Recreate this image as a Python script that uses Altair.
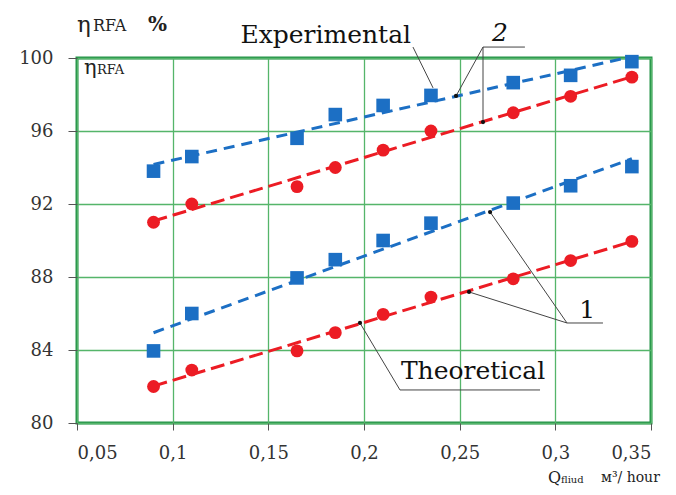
import altair as alt
import pandas as pd

# ---- data ----
q = [0.09, 0.11, 0.165, 0.185, 0.21, 0.235, 0.278, 0.308, 0.34]
exp_upper = [93.8, 94.6, 95.6, 96.9, 97.4, 97.95, 98.65, 99.05, 99.8]
theo_upper = [91.0, 92.0, 92.95, 94.0, 94.95, 96.0, 97.0, 97.9, 98.95]
exp_lower = [83.95, 86.0, 87.95, 88.95, 90.0, 90.95, 92.05, 93.0, 94.05]
theo_lower = [82.0, 82.9, 83.95, 84.95, 85.95, 86.9, 87.9, 88.9, 89.95]

series_names = ["exp_upper", "theo_upper", "exp_lower", "theo_lower"]
series_vals = [exp_upper, theo_upper, exp_lower, theo_lower]
series_kind = ["exp", "theo", "exp", "theo"]

x_ticks = [0.05, 0.1, 0.15, 0.2, 0.25, 0.3, 0.35]
y_ticks = [80, 84, 88, 92, 96, 100]

# annotation texts (data coordinates)
ann_text = ["Experimental", "2", "1", "Theoretical"]
ann_x = [0.180, 0.2711, 0.3166, 0.2570]
ann_y = [101.25, 101.35, 86.2, 82.85]
ann_style = ["normal", "italic", "normal", "normal"]

# leader lines (data coordinates)
lead_x = [0.2256, 0.2622, 0.2622, 0.2622, 0.3061, 0.3061, 0.3061, 0.2188, 0.2188]
lead_y = [100.60, 100.60, 100.60, 100.60, 85.48, 85.48, 85.48, 81.81, 81.81]
lead_x2 = [0.2361, 0.2841, 0.2481, 0.2622, 0.3249, 0.2659, 0.2549, 0.2920, 0.1979]
lead_y2 = [98.36, 100.60, 97.92, 96.49, 85.48, 91.56, 87.18, 81.81, 85.48]
dot_x = [0.2481, 0.2622, 0.2659, 0.2549, 0.1979]
dot_y = [97.92, 96.49, 91.56, 87.18, 85.48]

BLUE = "#1c6fc4"
RED = "#ec1c24"
GRID = "#55b56a"
FRAME = "#249348"
FONT = "DejaVu Serif"

rows = []
for name, vals, kind in zip(series_names, series_vals, series_kind):
    for xv, yv in zip(q, vals):
        rows.append({"series": name, "kind": kind, "q": xv, "eta": yv})
df = pd.DataFrame(rows)

xs = alt.Scale(domain=[0.05, 0.35], nice=False, zero=False)
ys = alt.Scale(domain=[80, 100], nice=False, zero=False)

xaxis = alt.Axis(values=x_ticks, labelExpr="replace(format(datum.value, '.2~f'), '.', ',')",
                 title=None, domain=False, grid=True, gridColor=GRID, gridWidth=1.3,
                 tickColor="#555", tickSize=7, labelFont=FONT, labelFontSize=18,
                 labelColor="#333", labelPadding=14)
yaxis = alt.Axis(values=y_ticks, title=None, domain=False, grid=True, gridColor=GRID,
                 gridWidth=1.3, tickColor="#555", tickSize=9, labelFont=FONT,
                 labelFontSize=18, labelColor="#333", labelPadding=15)

base = alt.Chart(df)

lines_blue = base.transform_filter(alt.datum.kind == "exp").transform_regression(
    "q", "eta", groupby=["series"]
).mark_line(color=BLUE, strokeWidth=3, strokeDash=[11, 7]).encode(
    x=alt.X("q:Q", scale=xs, axis=xaxis),
    y=alt.Y("eta:Q", scale=ys, axis=yaxis),
    detail="series:N",
)
lines_red = base.transform_filter(alt.datum.kind == "theo").transform_regression(
    "q", "eta", groupby=["series"]
).mark_line(color=RED, strokeWidth=3, strokeDash=[14, 6]).encode(
    x=alt.X("q:Q", scale=xs),
    y=alt.Y("eta:Q", scale=ys),
    detail="series:N",
)

pts_blue = base.transform_filter(alt.datum.kind == "exp").mark_point(
    shape="square", filled=True, size=185, color=BLUE, opacity=1
).encode(x=alt.X("q:Q", scale=xs), y=alt.Y("eta:Q", scale=ys))
pts_red = base.transform_filter(alt.datum.kind == "theo").mark_point(
    shape="circle", filled=True, size=165, color=RED, opacity=1
).encode(x=alt.X("q:Q", scale=xs), y=alt.Y("eta:Q", scale=ys))

lead_df = pd.DataFrame({"x": lead_x, "y": lead_y, "x2": lead_x2, "y2": lead_y2})
leaders = alt.Chart(lead_df).mark_rule(color="#444", strokeWidth=1).encode(
    x=alt.X("x:Q", scale=xs), y=alt.Y("y:Q", scale=ys), x2="x2:Q", y2="y2:Q"
)
dots_df = pd.DataFrame({"x": dot_x, "y": dot_y})
dots = alt.Chart(dots_df).mark_point(filled=True, color="#111", size=18, opacity=1).encode(
    x=alt.X("x:Q", scale=xs), y=alt.Y("y:Q", scale=ys)
)

ann_df = pd.DataFrame({"t": ann_text, "x": ann_x, "y": ann_y, "s": ann_style})
ann_normal = alt.Chart(ann_df[ann_df.s == "normal"]).mark_text(
    font=FONT, fontSize=25, color="#111", baseline="middle"
).encode(x=alt.X("x:Q", scale=xs), y=alt.Y("y:Q", scale=ys), text="t:N")
ann_italic = alt.Chart(ann_df[ann_df.s == "italic"]).mark_text(
    font=FONT, fontSize=25, fontStyle="italic", color="#111", baseline="middle"
).encode(x=alt.X("x:Q", scale=xs), y=alt.Y("y:Q", scale=ys), text="t:N")

one = pd.DataFrame({"a": [0]})


def label(txt, px, py, size, align="left", style="normal", weight="normal"):
    return alt.Chart(one).mark_text(
        text=txt, font=FONT, fontSize=size, color="#222", align=align,
        baseline="alphabetic", fontStyle=style, fontWeight=weight
    ).encode(x=alt.value(px), y=alt.value(py))


# y-axis title (above the axis) and inner label, x-axis title (bottom right)
titles = [
    label("η", 0, -26, 23),
    label("RFA", 16, -27, 16),
    label("%", 71, -27, 20, weight="bold"),
    label("η", 7, 16, 21),
    label("RFA", 20, 16, 13),
    label("Q", 471, 425, 16),
    label("fliud", 484, 425, 10),
    label("м³/ hour", 524, 424, 14),
]

chart = alt.layer(
    lines_blue, lines_red, pts_blue, pts_red, leaders, dots, ann_normal, ann_italic, *titles
).properties(
    width=574, height=365,
    autosize=alt.AutoSizeParams(type="none"),
    padding={"left": 69, "top": 50, "right": 17, "bottom": 64},
    background="white",
).configure_view(stroke=FRAME, strokeWidth=3)

chart.save("out.html", embed_options={"renderer": "svg", "actions": False})
